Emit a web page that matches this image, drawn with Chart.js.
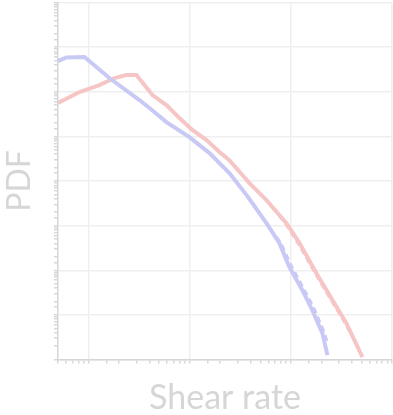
<!DOCTYPE html>
<html>
<head>
<meta charset="utf-8">
<script src="https://cdn.jsdelivr.net/npm/chart.js@4/dist/chart.umd.min.js"></script>
<style>
html,body{margin:0;padding:0;background:#fff;}
#wrap{width:393px;height:415px;}
</style>
</head>
<body>
<div id="wrap"><canvas id="c" width="393" height="415"></canvas></div>
<script>
// Shear-rate PDFs (log-log)
const blueX = [0.5, 0.606, 0.913, 1.61, 3.19, 4.01, 5.90, 9.95, 15.7, 24.7, 37.2, 57.4, 77.1, 96.8, 130, 163, 205, 230];
const blueY = [0.0488, 0.0585, 0.060, 0.0203, 0.00652, 0.00431, 0.00209, 9.65e-4, 4.22e-4, 1.5e-4, 4.58e-5, 1.14e-5, 4.05e-6, 1.17e-6, 3.58e-7, 1.28e-7, 3.89e-8, 1.25e-8];
const blueDashX = [37.2, 57.4, 80, 102, 136, 172, 214, 232];
const blueDashY = [4.58e-5, 1.14e-5, 4.0e-6, 1.2e-6, 3.6e-7, 1.3e-7, 4.0e-8, 2.2e-8];
const pinkX = [0.5, 0.815, 1.28, 1.81, 2.37, 2.98, 4.29, 5.90, 7.93, 10.7, 14.7, 19.7, 24.7, 39.0, 57.4, 90.5, 122, 179, 258, 354, 510];
const pinkY = [5.58e-3, 9.85e-3, 0.0141, 0.0203, 0.0237, 0.0237, 8.43e-3, 5.03e-3, 2.57e-3, 1.38e-3, 8.26e-4, 4.45e-4, 2.94e-4, 8.97e-5, 3.73e-5, 1.14e-5, 4.05e-6, 8.6e-7, 2.14e-7, 6.5e-8, 1.13e-8];
const pinkDashX = [57.4, 88, 118, 174, 250, 345, 480];
const pinkDashY = [3.73e-5, 1.14e-5, 4.05e-6, 8.6e-7, 2.14e-7, 6.5e-8, 1.6e-8];
const xLabel = 'Shear rate';
const yLabel = 'PDF';

const pts = (xs, ys) => xs.map((x, i) => ({x: x, y: ys[i]}));
const BLUE = '#c9c9f6';
const PINK = '#f6c6c6';

new Chart(document.getElementById('c'), {
  type: 'scatter',
  data: {
    datasets: [
      {data: pts(blueDashX, blueDashY), showLine: true, borderColor: BLUE, borderWidth: 3, borderDash: [6, 4], pointRadius: 0, fill: false},
      {data: pts(pinkDashX, pinkDashY), showLine: true, borderColor: PINK, borderWidth: 3, borderDash: [6, 4], pointRadius: 0, fill: false},
      {data: pts(blueX, blueY), showLine: true, borderColor: BLUE, borderWidth: 4, pointRadius: 0, fill: false},
      {data: pts(pinkX, pinkY), showLine: true, borderColor: PINK, borderWidth: 4, pointRadius: 0, fill: false}
    ]
  },
  options: {
    responsive: false,
    animation: false,
    layout: {padding: {top: 2.5, right: 1, left: 0, bottom: 0}},
    plugins: {legend: {display: false}, tooltip: {enabled: false}},
    scales: {
      x: {
        type: 'logarithmic',
        min: 0.5, max: 1000,
        afterFit: (s) => { s.height = 55.5; },
        ticks: {display: false},
        grid: {
          color: (ctx) => (ctx.tick && ctx.tick.major) ? '#efefef' : 'rgba(0,0,0,0)',
          tickColor: '#d8d8d8',
          tickLength: 4,
          lineWidth: 1.5
        },
        border: {color: '#d6d6d6', width: 1.5},
        title: {display: true, text: xLabel, color: '#d6d6d6', font: {family: 'Lato', size: 34, lineHeight: 1.0}, padding: 0}
      },
      y: {
        type: 'logarithmic',
        min: 1e-8, max: 1,
        afterFit: (s) => { s.width = 58; },
        ticks: {display: false},
        grid: {
          color: (ctx) => (ctx.tick && ctx.tick.major) ? '#efefef' : 'rgba(0,0,0,0)',
          tickColor: '#d8d8d8',
          tickLength: 4,
          lineWidth: 1.5
        },
        border: {color: '#d6d6d6', width: 1.5},
        title: {display: true, text: yLabel, color: '#d6d6d6', font: {family: 'Lato', size: 32, lineHeight: 1.2}, padding: 0}
      }
    }
  }
});
</script>
</body>
</html>
